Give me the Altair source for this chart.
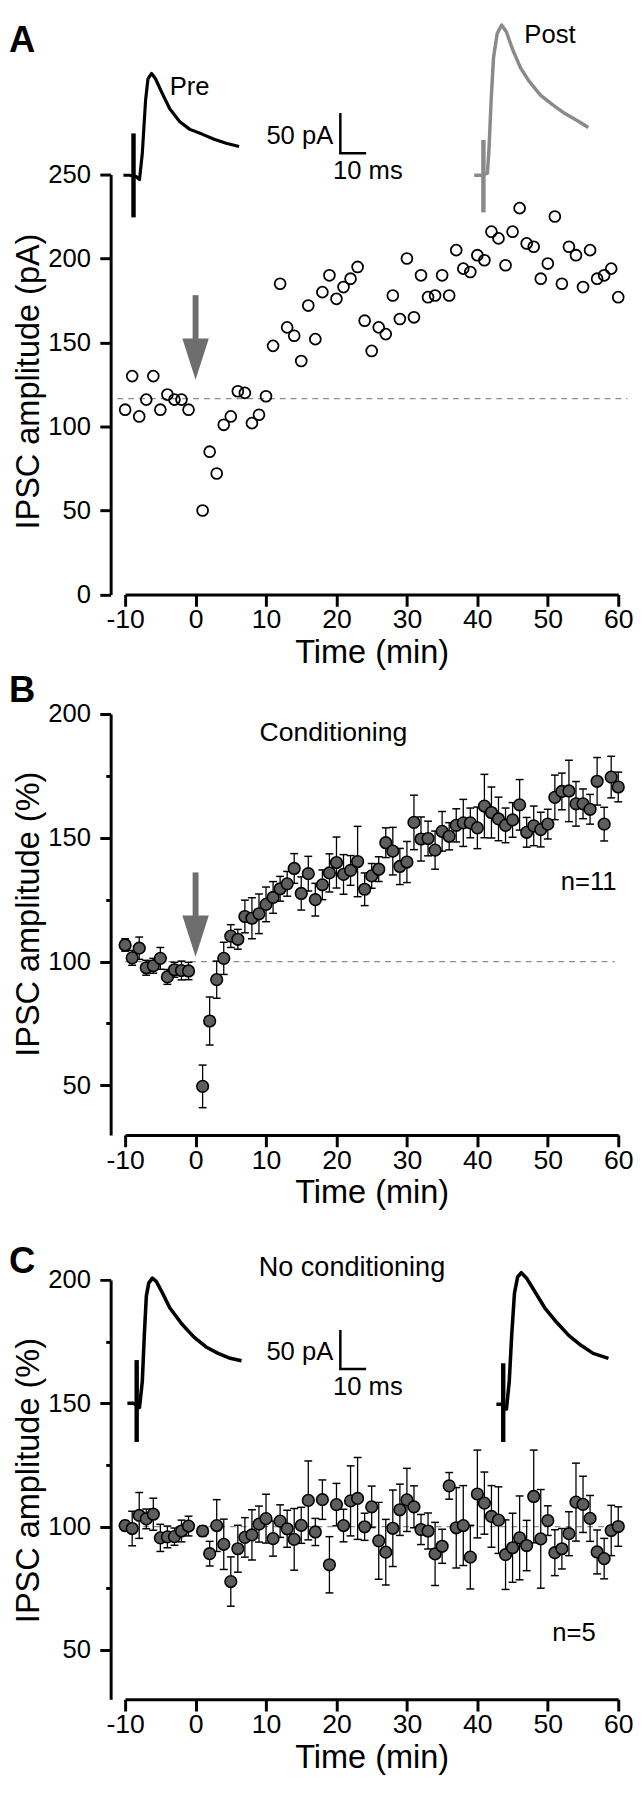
import altair as alt
import pandas as pd

FONT = "Liberation Sans"
ARROW_GRAY = "#6e6e6e"
POST_GRAY = "#8a8a8a"
DOT_FILL = "#5e5e5e"
DASH_GRAY = "#8c8c8c"
ARROW_SHAPE = "M-0.64,-1L0.64,-1L0,1Z"

PLOT_W = 501

# ---------------- data ----------------
time_min = [-10, -9, -8, -7, -6, -5, -4, -3, -2, -1,
            1, 2, 3, 4, 5, 6, 7, 8, 9, 10,
            11, 12, 13, 14, 15, 16, 17, 18, 19, 20,
            21, 22, 23, 24, 25, 26, 27, 28, 29, 30,
            31, 32, 33, 34, 35, 36, 37, 38, 39, 40,
            41, 42, 43, 44, 45, 46, 47, 48, 49, 50,
            51, 52, 53, 54, 55, 56, 57, 58, 59, 60]
x_ticks = [-10, 0, 10, 20, 30, 40, 50, 60]

# Panel A: single cell, IPSC amplitude (pA)
a_ipsc = [110, 130, 106, 116, 130, 110, 119, 116, 116, 110,
          50, 85, 72, 101, 106, 121, 120, 102, 107, 118,
          148, 185, 159, 154, 139, 172, 152, 180, 190, 176,
          183, 188, 195, 163, 145, 159, 155, 178, 164, 200,
          165, 190, 177, 178, 190, 178, 205, 194, 192, 202,
          199, 216, 212, 196, 216, 230, 209, 207, 188, 197,
          225, 185, 207, 202, 183, 205, 188, 190, 194, 177]
a_baseline = 116.6
a_ticks = [0, 50, 100, 150, 200, 250]

# Panel B: conditioning, mean +- SEM (%)
b_mean = [106.7, 101.5, 105.4, 97.5, 98.3, 101.3, 93.8, 96.7, 96.4, 96.2,
          49.6, 76.0, 92.7, 101.3, 110.3, 109.0, 118.2, 117.5, 119.3, 123.1,
          125.9, 129.4, 131.4, 137.6, 127.5, 135.5, 125.0, 131.0, 135.8, 140.0,
          135.2, 136.8, 140.4, 129.2, 134.6, 137.3, 148.0, 144.6, 138.4, 140.2,
          156.2, 149.5, 149.7, 145.0, 152.6, 150.6, 155.0, 156.0, 156.0, 154.0,
          162.8, 160.2, 157.6, 155.0, 157.2, 163.3, 152.2, 154.8, 153.3, 155.5,
          166.3, 168.7, 168.9, 163.7, 163.7, 161.5, 172.8, 155.5, 174.5, 170.5]
b_sem = [2.5, 3, 4.5, 3, 3, 4.4, 3, 3, 3.8, 3.5,
         8.6, 9.7, 7.5, 6.5, 4.6, 4, 6.6, 8.3, 8, 7,
         6.4, 5, 5, 6, 6.7, 7, 6.6, 6, 7.7, 10.3,
         8, 6, 14.2, 6.6, 5, 5, 6, 9.6, 7.3, 8.3,
         11, 8.9, 7, 7.7, 8, 5.5, 6.7, 9.5, 6, 8.4,
         12.8, 10.3, 8.8, 7, 7, 10.2, 6, 8, 7, 6,
         9, 7.4, 12.4, 9, 6, 6, 9.6, 6.8, 8.4, 6]

# Panel C: no conditioning, mean +- SEM (%)
c_mean = [100.4, 99.2, 104.5, 103.1, 105.0, 95.4, 95.8, 95.9, 98.2, 100.2,
          98.2, 89.0, 100.4, 92.8, 77.7, 91.0, 95.6, 96.6, 101.0, 103.2,
          95.1, 102.2, 99.1, 94.8, 100.5, 110.6, 97.8, 110.9, 84.5, 108.9,
          100.4, 110.4, 111.4, 99.9, 108.0, 94.2, 89.6, 99.3, 106.8, 110.8,
          108.0, 98.8, 98.2, 88.9, 92.0, 116.5, 99.5, 100.4, 87.6, 113.2,
          109.5, 104.1, 102.6, 88.6, 91.4, 95.4, 92.3, 112.2, 95.0, 102.4,
          89.4, 91.0, 97.1, 109.9, 109.0, 103.3, 89.7, 87.0, 98.4, 100.0]
c_sem = [2, 7, 9.3, 4, 6.5, 5.5, 4.4, 3.5, 4.4, 4,
         2, 5, 10.5, 10.2, 10, 9.5, 8, 10.2, 7.3, 9.9,
         7.1, 6.6, 7.5, 12.5, 7.3, 16, 5.5, 8, 11.4, 8.6,
         6.6, 14.2, 16.6, 5.5, 8.4, 15.6, 13.3, 15.5, 10.4, 12.8,
         8.5, 6.1, 7.3, 12.8, 6.9, 5.4, 16.3, 16.2, 12.9, 17.8,
         12.6, 12.5, 13.5, 14.1, 14, 17, 10.2, 18.8, 20, 6,
         9.3, 8.2, 8.9, 15.8, 11.4, 9.3, 8.9, 8.2, 10.2, 8]
pct_ticks = [50, 75, 100, 125, 150, 175, 200]

# Example current traces (drawn in panel coordinates)
a_pre_t = [-10.24, -9.4, -8.5, -7.96, -7.56, -7.1, -6.76, -6.24, -5.67, -4.81,
           -3.67, -2.24, -0.81, 0.91, 2.63, 4.34, 6.18]
a_pre_v = [249.6, 249.6, 249.0, 247.0, 262.7, 294.1, 306.9, 310.2, 306.9, 299.0,
           289.2, 281.4, 276.9, 274.1, 271.0, 268.6, 266.7]
a_pre_art = [-8.81, 224.5, 274.5]
a_post_t = [39.55, 40.69, 41.43, 41.66, 41.95, 42.3, 42.81, 43.44, 44.13, 44.99,
            46.13, 47.28, 48.99, 50.71, 52.43, 54.15, 55.75]
a_post_v = [249.6, 249.6, 250.9, 265.9, 293.8, 319.9, 333.9, 339.0, 334.9, 324.6,
            313.5, 305.9, 297.2, 291.5, 286.3, 282.2, 278.0]
a_post_art = [40.86, 227.5, 270.6]

c_pre_t = [-9.68, -8.82, -8.2, -7.96, -7.56, -7.28, -6.99, -6.65, -6.13, -5.56,
           -4.7, -3.67, -1.95, -0.23, 1.49, 3.2, 4.92, 6.52]
c_pre_v = [150.0, 150.0, 149.0, 148.3, 158.9, 177.4, 193.4, 198.7, 200.7, 199.3,
           194.7, 188.7, 182.1, 176.8, 172.8, 170.2, 168.2, 167.2]
c_pre_art = [-8.36, 134.3, 167.5]
c_post_t = [42.7, 43.38, 43.9, 44.13, 44.53, 44.87, 45.27, 45.73, 46.24, 46.99,
            48.13, 49.56, 51.28, 53.0, 54.71, 56.43, 58.61]
c_post_v = [149.6, 149.6, 148.5, 147.6, 158.9, 177.4, 194.7, 201.3, 202.9, 200.7,
            195.4, 188.7, 182.7, 177.4, 173.5, 170.2, 168.2]
c_post_art = [43.67, 134.3, 166.2]

# scale bars [t_vertical, t_right, v_bottom, v_top]
a_bar = [20.55, 24.21, 262.7, 286.6]
c_bar = [20.55, 24.21, 163.9, 179.7]

# conditioning arrows [t, shaft_top, shaft_bottom, head_center]
a_arrow = [0, 178.2, 150.0, 140.15]
b_arrow = [0, 136.0, 117.0, 110.3]


# ---------------- helpers ----------------
def x_axis():
    return alt.Axis(values=x_ticks, title="Time (min)", grid=False,
                    tickSize=12, tickWidth=3, tickColor="black",
                    domainWidth=3, domainColor="black",
                    labelFont=FONT, labelFontSize=27, labelColor="black",
                    labelPadding=1, labelFlush=False, labelOverlap=False,
                    labelExpr="'' + datum.value",
                    titleFont=FONT, titleFontSize=33, titleFontWeight="normal",
                    titleColor="black", titlePadding=4)


def y_axis(values, title, title_y, minor):
    kw = dict(values=values, title=title, grid=False, offset=14.7,
              tickSize=11, tickWidth=3, tickColor="black",
              domainWidth=3, domainColor="black",
              labelFont=FONT, labelFontSize=26, labelColor="black",
              labelPadding=9.5, labelFlush=False, labelOverlap=False,
              titleFont=FONT, titleFontSize=33, titleFontWeight="normal",
              titleColor="black", titleX=-66, titleY=title_y, titleAngle=-90,
              titleBaseline="bottom", titleAlign="center")
    if minor:
        kw["labelExpr"] = "datum.value % 50 == 0 ? datum.label : ''"
        kw["tickDash"] = {"condition": {"test": "datum.value % 50 != 0", "value": [5, 40]},
                          "value": [1, 0]}
    else:
        kw["labelExpr"] = "'' + datum.value"
    return alt.Axis(**kw)


def encs(y_dom, y_vals, y_title, title_y, minor):
    X = alt.X("t:Q", scale=alt.Scale(domain=[-10, 60], nice=False, zero=False), axis=x_axis())
    Y = alt.Y("v:Q", scale=alt.Scale(domain=y_dom, nice=False, zero=False),
              axis=y_axis(y_vals, y_title, title_y, minor))
    return X, Y


def text_layer(X, Y, t, v, label, size=26, align="left"):
    df = pd.DataFrame({"t": [t], "v": [v], "label": [label]})
    return alt.Chart(df).mark_text(font=FONT, fontSize=size, align=align,
                                   baseline="alphabetic", color="black").encode(
        x=X, y=Y, text="label:N")


def letter(label, y_px):
    df = pd.DataFrame({"label": [label]})
    return alt.Chart(df).mark_text(font=FONT, fontSize=37, fontWeight="bold", align="left",
                                   baseline="alphabetic", color="black").encode(
        x=alt.value(-118.1), y=alt.value(y_px), text="label:N")


def dashed(X, Y, t0, t1, v):
    df = pd.DataFrame({"t": [t0], "t2": [t1], "v": [v]})
    return alt.Chart(df).mark_rule(color=DASH_GRAY, strokeWidth=1.3, strokeDash=[6, 5]).encode(
        x=X, x2="t2:Q", y=Y)


def trace(X, Y, ts, vs, color, width=3.4):
    df = pd.DataFrame({"t": ts, "v": vs, "i": list(range(len(ts)))})
    return alt.Chart(df).mark_line(color=color, strokeWidth=width, strokeJoin="round").encode(
        x=X, y=Y, order="i:Q")


def artifact(X, Y, art, color):
    df = pd.DataFrame({"t": [art[0]], "v": [art[1]], "v2": [art[2]]})
    return alt.Chart(df).mark_rule(color=color, strokeWidth=4.5).encode(x=X, y=Y, y2="v2:Q")


def scale_bar(X, Y, bar):
    df = pd.DataFrame({"t": [bar[0], bar[0], bar[1]], "v": [bar[3], bar[2], bar[2]],
                       "i": [0, 1, 2]})
    return alt.Chart(df).mark_line(color="black", strokeWidth=2.5).encode(x=X, y=Y, order="i:Q")


def arrow(X, Y, arr):
    shaft = alt.Chart(pd.DataFrame({"t": [arr[0]], "v": [arr[1]], "v2": [arr[2]]})).mark_rule(
        color=ARROW_GRAY, strokeWidth=6).encode(x=X, y=Y, y2="v2:Q")
    head = alt.Chart(pd.DataFrame({"t": [arr[0]], "v": [arr[3]]})).mark_point(
        shape=ARROW_SHAPE, size=1764, filled=True, color=ARROW_GRAY, opacity=1,
        strokeWidth=0).encode(x=X, y=Y)
    return [shaft, head]


def mean_sem_layers(X, Y, means, sems):
    df = pd.DataFrame({"t": time_min, "v": means, "e": sems})
    df["lo"] = df["v"] - df["e"]
    df["hi"] = df["v"] + df["e"]
    caps = pd.DataFrame({"t": list(df["t"]) * 2, "v": list(df["lo"]) + list(df["hi"])})
    bars = alt.Chart(df).mark_rule(color="black", strokeWidth=1.3).encode(
        x=X, y=alt.Y("lo:Q"), y2="hi:Q")
    tcks = alt.Chart(caps).mark_tick(orient="horizontal", size=8, thickness=1.5,
                                     color="black", opacity=1).encode(x=X, y=Y)
    dots = alt.Chart(df).mark_point(shape="circle", filled=True, fill=DOT_FILL, stroke="black",
                                    strokeWidth=1.6, size=140, opacity=1).encode(x=X, y=Y)
    return [bars, tcks, dots]


# ---------------- Panel A ----------------
HA = 426.6
XA, YA = encs([0, 250], a_ticks, "IPSC amplitude (pA)", 209.8, False)
a_df = pd.DataFrame({"t": time_min, "v": a_ipsc})
panel_a = alt.layer(
    dashed(XA, YA, -11.1, 61.3, a_baseline),
    alt.Chart(a_df).mark_point(shape="circle", filled=False, stroke="black", strokeWidth=1.8,
                               size=122, opacity=1).encode(x=XA, y=YA),
    *arrow(XA, YA, a_arrow),
    trace(XA, YA, a_pre_t, a_pre_v, "black", 3.2),
    artifact(XA, YA, a_pre_art, "black"),
    trace(XA, YA, a_post_t, a_post_v, POST_GRAY, 3.5),
    artifact(XA, YA, a_post_art, POST_GRAY),
    scale_bar(XA, YA, a_bar),
    text_layer(XA, YA, -3.66, 297.3, "Pre"),
    text_layer(XA, YA, 46.67, 328.2, "Post"),
    text_layer(XA, YA, 19.54, 268.0, "50 pA", align="right"),
    text_layer(XA, YA, 19.51, 247.1, "10 ms"),
    letter("A", -124.1),
).properties(width=PLOT_W, height=HA)

# ---------------- Panel B ----------------
HB = 427.7
XB, YB = encs([30, 200], pct_ticks, "IPSC amplitude (%)", 203, True)
panel_b = alt.layer(
    dashed(XB, YB, -10, 59.5, 100),
    *mean_sem_layers(XB, YB, b_mean, b_sem),
    *arrow(XB, YB, b_arrow),
    text_layer(XB, YB, 19.57, 189.0, "Conditioning", size=27, align="center"),
    text_layer(XB, YB, 59.76, 128.9, "n=11", align="right"),
    letter("B", -12.3),
).properties(width=PLOT_W, height=HB)

# ---------------- Panel C ----------------
HC = 426.0
XC, YC = encs([30, 200], pct_ticks, "IPSC amplitude (%)", 203.4, True)
panel_c = alt.layer(
    dashed(XC, YC, -10.5, 59.7, 100),
    *mean_sem_layers(XC, YC, c_mean, c_sem),
    trace(XC, YC, c_pre_t, c_pre_v, "black", 3.6),
    artifact(XC, YC, c_pre_art, "black"),
    trace(XC, YC, c_post_t, c_post_v, "black", 3.6),
    artifact(XC, YC, c_post_art, "black"),
    scale_bar(XC, YC, c_bar),
    text_layer(XC, YC, 22.2, 201.6, "No conditioning", size=27.5, align="center"),
    text_layer(XC, YC, 19.54, 167.4, "50 pA", align="right"),
    text_layer(XC, YC, 19.51, 153.4, "10 ms"),
    text_layer(XC, YC, 56.8, 53.4, "n=5", align="right"),
    letter("C", -6.6),
).properties(width=PLOT_W, height=HC)


def spacer(h):
    return alt.Chart(pd.DataFrame({"a": [0]})).mark_point(opacity=0, size=1).encode(
        x=alt.value(0), y=alt.value(0)).properties(width=PLOT_W, height=h)


chart = alt.vconcat(panel_a, spacer(120.7), panel_b, spacer(146.6), panel_c,
                    spacing=0, bounds="flush", padding=0).configure_view(stroke=None)

chart.save("out.html", embed_options={"renderer": "svg", "actions": False})
